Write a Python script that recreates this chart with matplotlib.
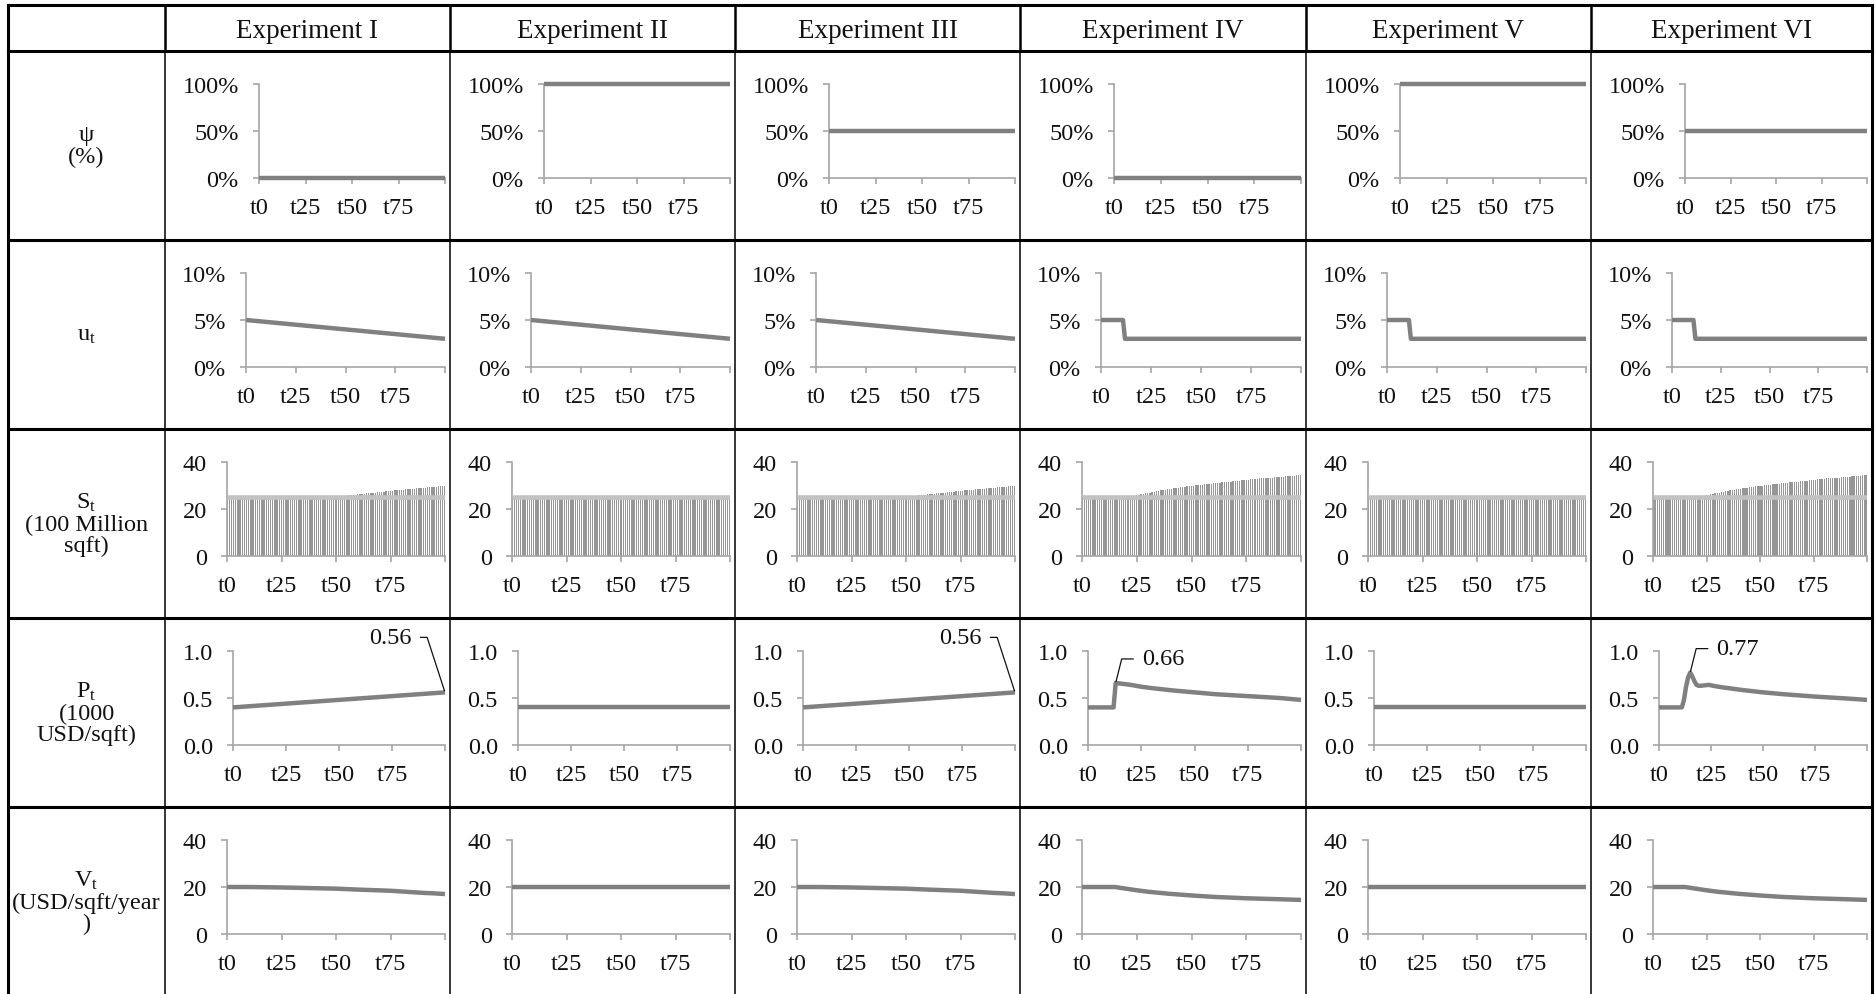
import matplotlib
matplotlib.use("Agg")
import matplotlib.pyplot as plt

plt.rcParams["font.family"] = ["Liberation Serif", "DejaVu Serif"]
plt.rcParams["mathtext.fontset"] = "custom"
plt.rcParams["mathtext.rm"] = "Liberation Serif"
plt.rcParams["mathtext.it"] = "Liberation Serif:italic"

# ---------------------------------------------------------------- data
experiments = ["Experiment I", "Experiment II", "Experiment III",
               "Experiment IV", "Experiment V", "Experiment VI"]
row_labels = ["ψ\n(%)",
              "u$_\\mathregular{t}$",
              "S$_\\mathregular{t}$\n(100 Million\nsqft)",
              "P$_\\mathregular{t}$\n(1000\nUSD/sqft)",
              "V$_\\mathregular{t}$\n(USD/sqft/year\n)"]
t_ticks = [0, 25, 50, 75, 100]
t_labels = ["t0", "t25", "t50", "t75", ""]

# psi: policy share, constant over the horizon
psi_t = [0, 100]
psi_share = [0.0, 1.0, 0.5, 0.0, 1.0, 0.5]

# u_t
u_gradual_t = [0, 100]
u_gradual = [0.05, 0.03]
u_step_t = [0, 11, 12, 100]
u_step = [0.05, 0.05, 0.03, 0.03]

# S_t (bars, one per period t0..t100) and the reference level
periods = list(range(101))
S_ref = 25.0
S_flat = [25.0] * 101
S_slow = [25.0] * 49 + [
    25.1, 25.2, 25.3, 25.4, 25.5, 25.6, 25.7, 25.8, 25.9, 26.0,
    26.1, 26.2, 26.3, 26.4, 26.5, 26.6, 26.7, 26.8, 26.9, 27.0,
    27.1, 27.2, 27.3, 27.4, 27.5, 27.6, 27.7, 27.8, 27.9, 28.0,
    28.1, 28.2, 28.2, 28.3, 28.4, 28.5, 28.6, 28.7, 28.8, 28.9,
    28.9, 29.0, 29.1, 29.2, 29.3, 29.3, 29.4, 29.5, 29.6, 29.7,
    29.7, 29.8]
S_fast = [25.0] * 22 + [
    25.2, 25.4, 25.6, 25.8, 26.0, 26.2, 26.4, 26.6, 26.8, 27.0,
    27.2, 27.4, 27.6, 27.8, 27.9, 28.1, 28.2, 28.4, 28.5, 28.7,
    28.8, 29.0, 29.1, 29.2, 29.4, 29.5, 29.6, 29.8, 29.9, 30.0,
    30.1, 30.2, 30.3, 30.4, 30.5, 30.6, 30.7, 30.8, 30.9, 31.0,
    31.1, 31.2, 31.3, 31.4, 31.5, 31.6, 31.7, 31.8, 31.9, 32.0,
    32.1, 32.2, 32.3, 32.4, 32.5, 32.6, 32.7, 32.8, 32.9, 33.0,
    33.0, 33.1, 33.2, 33.3, 33.3, 33.4, 33.5, 33.6, 33.6, 33.7,
    33.8, 33.9, 33.9, 34.0, 34.1, 34.2, 34.3, 34.4, 34.5]

# P_t
P_flat_t = [0, 100]
P_flat = [0.40, 0.40]
P_trend_t = [0, 100]
P_trend = [0.40, 0.56]
P_jump_t = [0, 12, 13, 20, 25, 30, 40, 50, 60, 75, 90, 100]
P_jump = [0.40, 0.40, 0.66, 0.64, 0.62, 0.605, 0.58, 0.56, 0.54, 0.52, 0.50, 0.48]
P_spike_t = [0, 11, 12, 13, 14, 15, 16, 17, 18, 19, 20, 22, 24, 26, 30,
             40, 50, 60, 75, 90, 100]
P_spike = [0.40, 0.40, 0.48, 0.62, 0.72, 0.77, 0.73, 0.68, 0.64, 0.63, 0.63,
           0.635, 0.64, 0.63, 0.615, 0.585, 0.56, 0.54, 0.515, 0.495, 0.48]

# V_t
V_flat_t = [0, 100]
V_flat = [20.0, 20.0]
V_slow_t = [0, 10, 25, 35, 50, 60, 75, 85, 90, 95, 100]
V_slow = [20.0, 20.0, 19.8, 19.6, 19.3, 18.9, 18.4, 17.8, 17.5, 17.3, 17.0]
V_drop_t = [0, 15, 20, 25, 30, 40, 50, 60, 75, 90, 100]
V_drop = [20.0, 20.0, 19.3, 18.6, 18.0, 17.1, 16.4, 15.8, 15.2, 14.8, 14.5]

# ---------------------------------------------------------------- layout (pixels)
W, H = 1876, 995
col_edges = [8, 165, 450, 735, 1020, 1306, 1591, 1872]
row_edges = [6, 52, 241, 430, 619, 808, 997]
left_offsets = [94, 81, 62, 68, 62]

LINE = "#808080"
AXIS = "#a6a6a6"
TXT = "#111111"
FS = 17.5

fig = plt.figure(figsize=(W / 100, H / 100), dpi=100)
bg = fig.add_axes([0, 0, 1, 1])
bg.set_xlim(0, W)
bg.set_ylim(H, 0)
bg.axis("off")

# table grid
for y in row_edges[:-1]:
    bg.plot([col_edges[0], col_edges[-1]], [y, y], color="black", lw=2.2,
            solid_capstyle="projecting")
for i, x in enumerate(col_edges):
    outer = i in (0, len(col_edges) - 1)
    bg.plot([x, x], [row_edges[0], row_edges[1]], color="black",
            lw=2.2 if outer else 1.8)
    bg.plot([x, x], [row_edges[1], H], color="black",
            lw=2.2 if outer else 1.1)

# header and row captions
for j, name in enumerate(experiments):
    xc = (col_edges[j + 1] + col_edges[j + 2]) / 2
    bg.text(xc, (row_edges[0] + row_edges[1]) / 2 + 2, name, ha="center",
            va="center", fontsize=19.5, color=TXT)
for i, lab in enumerate(row_labels):
    yc = (row_edges[i + 1] + row_edges[i + 2]) / 2
    bg.text((col_edges[0] + col_edges[1]) / 2, yc, lab, ha="center",
            va="center", multialignment="center", fontsize=FS, color=TXT,
            linespacing=1.0)


def cell_axes(row, col, ylim, yticks, ylabels):
    x0 = col_edges[col + 1] + left_offsets[row]
    x1 = col_edges[col + 2] - 5
    y0 = row_edges[row + 1] + 33
    y1 = row_edges[row + 1] + 127
    ax = fig.add_axes([x0 / W, 1 - y1 / H, (x1 - x0) / W, (y1 - y0) / H])
    ax.set_xlim(0, 100)
    ax.set_ylim(*ylim)
    for s in ("top", "right"):
        ax.spines[s].set_visible(False)
    for s in ("left", "bottom"):
        ax.spines[s].set_color(AXIS)
        ax.spines[s].set_linewidth(1.2)
    ax.set_xticks(t_ticks)
    ax.set_xticklabels(t_labels)
    ax.set_yticks(yticks)
    ax.set_yticklabels(ylabels)
    ax.tick_params(axis="both", direction="out", length=4.5, width=1.2,
                   color=AXIS, labelcolor=TXT, labelsize=FS)
    ax.tick_params(axis="y", pad=10)
    ax.tick_params(axis="x", pad=9.5)
    ax.patch.set_alpha(0)
    return ax


def draw_line(ax, t, v):
    ax.plot(t, v, color=LINE, lw=3.2, clip_on=False, zorder=3,
            solid_joinstyle="round", solid_capstyle="butt")


u_series = [(u_gradual_t, u_gradual)] * 3 + [(u_step_t, u_step)] * 3
S_series = [S_slow, S_flat, S_slow, S_fast, S_flat, S_fast]
P_series = [(P_trend_t, P_trend), (P_flat_t, P_flat), (P_trend_t, P_trend),
            (P_jump_t, P_jump), (P_flat_t, P_flat), (P_spike_t, P_spike)]
V_series = [(V_slow_t, V_slow), (V_flat_t, V_flat), (V_slow_t, V_slow),
            (V_drop_t, V_drop), (V_flat_t, V_flat), (V_drop_t, V_drop)]

for j in range(6):
    # psi
    ax = cell_axes(0, j, (0, 1), [0, 0.5, 1], ["0%", "50%", "100%"])
    draw_line(ax, psi_t, [psi_share[j]] * len(psi_t))

    # u_t
    ax = cell_axes(1, j, (0, 0.10), [0, 0.05, 0.10], ["0%", "5%", "10%"])
    draw_line(ax, *u_series[j])

    # S_t
    ax = cell_axes(2, j, (0, 40), [0, 20, 40], ["0", "20", "40"])
    ax.bar(periods, S_series[j], width=0.62, color="#969696", linewidth=0,
           zorder=2)
    ax.plot([0, 100], [S_ref, S_ref], color="#c2c2c2", lw=3.3, zorder=3,
            solid_capstyle="butt")

    # P_t
    ax = cell_axes(3, j, (0, 1), [0, 0.5, 1], ["0.0", "0.5", "1.0"])
    t, v = P_series[j]
    draw_line(ax, t, v)
    arrow = dict(arrowstyle="-", color=TXT, lw=0.9, shrinkA=4, shrinkB=1)
    if j in (0, 2):
        ax.annotate(f"{v[-1]:.2f}", xy=(t[-1], v[-1]), xytext=(-33, 55),
                    textcoords="offset pixels", ha="right", va="center",
                    fontsize=FS, color=TXT, annotation_clip=False,
                    arrowprops=dict(arrow, relpos=(1, 0.5),
                                    connectionstyle="angle,angleA=0,angleB=108,rad=0"))
    elif j in (3, 5):
        k = v.index(max(v))
        ax.annotate(f"{v[k]:.2f}", xy=(t[k], v[k]), xytext=(26, 24),
                    textcoords="offset pixels", ha="left", va="center",
                    fontsize=FS, color=TXT, annotation_clip=False,
                    arrowprops=dict(arrow, relpos=(0, 0.5),
                                    connectionstyle="angle,angleA=0,angleB=76,rad=0"))

    # V_t
    ax = cell_axes(4, j, (0, 40), [0, 20, 40], ["0", "20", "40"])
    draw_line(ax, *V_series[j])

fig.savefig("out.png", dpi=100)
